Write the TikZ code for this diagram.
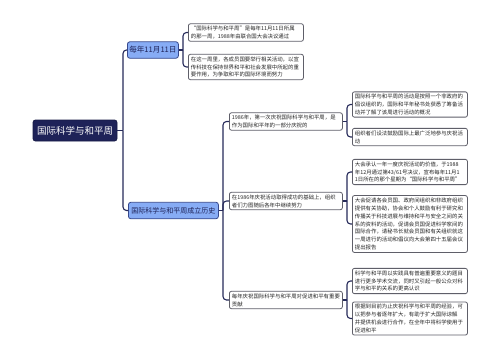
\documentclass[tikz,border=0pt]{standalone}
\usepackage{fontspec}
\setmainfont{Noto Sans CJK SC}
\definecolor{navy}{RGB}{30,34,88}
\definecolor{conncol}{RGB}{38,42,90}
\definecolor{brfill}{RGB}{135,172,245}
\definecolor{brdraw}{RGB}{55,72,140}
\definecolor{leafdraw}{RGB}{95,95,105}
\tikzset{
  rootbox/.style={fill=navy,draw=navy!80!black,line width=0.8pt,rounded corners=2.5pt,text=white,
    font=\fontsize{9.5}{10}\selectfont,minimum width=84pt,minimum height=21pt,inner sep=2pt},
  brbox/.style={fill=brfill,draw=brdraw,line width=0.8pt,rounded corners=2.5pt,text=navy,
    minimum height=16.5pt,inner sep=1.5pt,anchor=west},
  leaf/.style={draw=leafdraw,line width=0.8pt,rounded corners=2pt,fill=white,text=black!85,
    font=\fontsize{5.4}{7.9}\selectfont,align=left,inner xsep=2.5pt,inner ysep=2.2pt,anchor=west},
  conn/.style={draw=conncol,line width=1.1pt,rounded corners=3.5pt},
}
\begin{document}
\begin{tikzpicture}[x=1pt,y=-1pt]
\useasboundingbox[fill=white] (0,0) rectangle (500,360);
% root and branches
\node[rootbox] (root) at (75,130.5) {国际科学与和平周};
\node[brbox,minimum width=51pt,font=\fontsize{7.6}{8}\selectfont] (br1) at (127,50) {每年11月11日};
\node[brbox,minimum width=90pt,font=\fontsize{7}{8}\selectfont] (br2) at (128,210.5) {国际科学与和平周成立历史};
% leaves of branch 1
\node[leaf,text width=110pt] (t1) at (188,32.5) {“国际科学与和平周”是每年11月11日所属\\的那一周，1988年由联合国大会决议通过};
\node[leaf,text width=110pt] (t2) at (188,67) {在这一周里，各成员国要举行相关活动，以宣\\传科技在保持世界和平和社会发展中所起的重\\要作用，为争取和平的国际环境而努力};
% second level of branch 2
\node[leaf,text width=108pt] (a) at (229,121.5) {1986年，第一次庆祝国际科学与和平周，是\\作为国际和平年的一部分庆祝的};
\node[leaf,text width=108pt] (b) at (229,201) {在1986年庆祝活动取得成功的基础上，组织\\者们力图随后各年中继续努力};
\node[leaf,text width=108pt] (c) at (229,300) {每年庆祝国际科学与和平周对促进和平有重要\\贡献};
% third level
\node[leaf,text width=110pt] (a1) at (352,104.5) {国际科学与和平周的活动是按照一个非政府的\\倡议组织的，国际和平年秘书处获悉了筹备活\\动并了解了该周进行活动的概况};
\node[leaf,text width=110pt] (a2) at (352,137) {组织者们设法鼓励国际上最广泛地参与庆祝活\\动};
\node[leaf,text width=110pt] (b1) at (352,172) {大会承认一年一度庆祝活动的价值，于1988\\年12月通过第43/61号决议，宣布每年11月1\\1日所在的那个星期为“国际科学与和平周”};
\node[leaf,text width=110pt] (b2) at (352,224) {大会促请各会员国、政府间组织和非政府组织\\提供有关协助，协会和个人鼓励有利于研究和\\传播关于科技进展与维持和平与安全之间的关\\系的资料的活动，促请会员国促进科学家间的\\国际合作，请秘书长就会员国和有关组织就这\\一周进行的活动和倡议向大会第四十五届会议\\提出报告};
\node[leaf,text width=110pt] (c1) at (352,281) {科学与和平周以实践具有普遍重要意义的题目\\进行更多学术交流，同时又引起一般公众对科\\学与和平的关系的更高认识};
\node[leaf,text width=110pt] (c2) at (352,318.5) {根据到目前为止庆祝科学与和平周的经验，可\\以把参与者逐年扩大，有助于扩大国际谅解\\并提供机会进行合作，在全年中将科学使用于\\促进和平};
% junctions
\coordinate (j0) at (123,130.5);
\coordinate (j1) at (183,50);
\coordinate (j2) at (223,210.5);
\coordinate (ja) at (347,121.5);
\coordinate (jb) at (347,201);
\coordinate (jc) at (347,300);
% connectors
\draw[conn] (root.east) -- (j0);
\draw[conn] (j0) |- (br1.west);
\draw[conn] (j0) |- (br2.west);
\draw[conn] (br1.east) -- (j1);
\draw[conn] (j1) |- (t1.west);
\draw[conn] (j1) |- (t2.west);
\draw[conn] (br2.east) -- (j2);
\draw[conn] (j2) |- (a.west);
\draw[conn] (j2) |- (b.west);
\draw[conn] (j2) |- (c.west);
\draw[conn] (a.east) -- (ja);
\draw[conn] (ja) |- (a1.west);
\draw[conn] (ja) |- (a2.west);
\draw[conn] (b.east) -- (jb);
\draw[conn] (jb) |- (b1.west);
\draw[conn] (jb) |- (b2.west);
\draw[conn] (c.east) -- (jc);
\draw[conn] (jc) |- (c1.west);
\draw[conn] (jc) |- (c2.west);
\end{tikzpicture}
\end{document}
